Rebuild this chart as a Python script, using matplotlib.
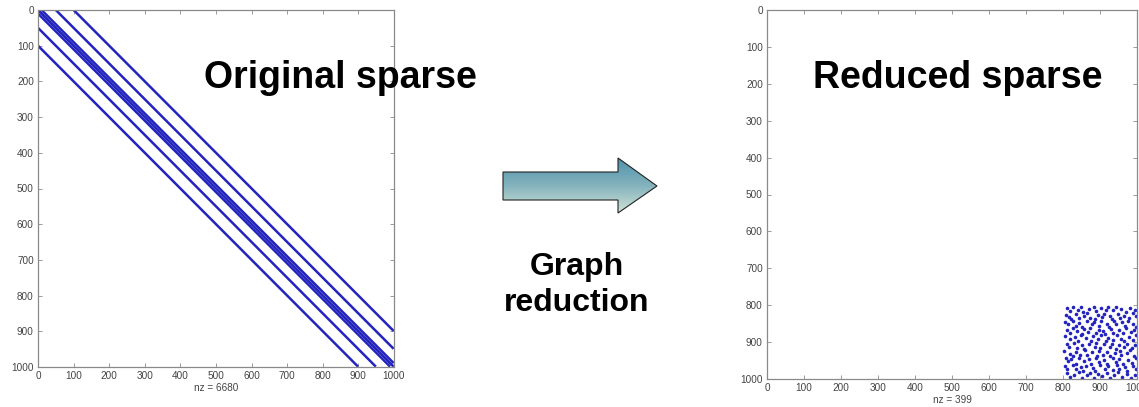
import numpy as np
import matplotlib
matplotlib.use("Agg")
import matplotlib.pyplot as plt
from matplotlib.patches import Polygon
from matplotlib.colors import LinearSegmentedColormap

# ---------------- data ----------------
N = 1000
band_offsets = [0, 10, -10, 50, -50, 100, -100]
ticks = [0, 100, 200, 300, 400, 500, 600, 700, 800, 900, 1000]
left_nz_label = "nz = 6680"
right_nz_label = "nz = 399"

reduced_cols = [812, 818, 826, 840, 848, 855, 870, 884, 890, 902, 915, 922, 936, 944, 958, 970, 982, 994,
                808, 816, 822, 835, 842, 858, 864, 872, 886, 895, 906, 912, 928, 933, 948, 955, 966, 978, 988, 997,
                805, 813, 828, 836, 844, 852, 866, 878, 884, 898, 904, 918, 925, 938, 942, 960, 968, 975, 990, 998,
                810, 818, 826, 838, 850, 856, 868, 874, 888, 896, 909, 914, 930, 936, 950, 962, 970, 984, 992,
                806, 820, 832, 840, 848, 862, 876, 880, 894, 902, 916, 922, 934, 946, 956, 966, 978, 988, 996,
                812, 816, 830, 838, 852, 858, 870, 886, 890, 900, 912, 926, 932, 944, 952, 964, 974, 986, 994,
                804, 818, 828, 834, 846, 860, 866, 878, 892, 898, 908, 918, 928, 940, 954, 958, 972, 980, 992,
                808, 814, 822, 836, 842, 856, 870, 876, 888, 896, 910, 920, 934, 942, 950, 962, 976, 986, 998,
                806, 812, 826, 834, 848, 854, 862, 880, 886, 900, 914, 922, 936, 946, 952, 968, 974, 990, 996,
                810, 818, 830, 842, 850, 864, 872, 884, 894, 906, 918, 926, 938, 948, 960, 972, 984, 994]
reduced_rows = [808, 815, 806, 812, 805, 818, 810, 806, 816, 808, 812, 805, 814, 806, 811, 818, 808, 814,
                826, 832, 838, 824, 836, 828, 822, 834, 838, 826, 832, 824, 830, 838, 824, 834, 828, 836, 822, 830,
                846, 852, 842, 856, 848, 858, 844, 852, 846, 856, 844, 850, 858, 842, 852, 846, 856, 842, 850, 858,
                866, 874, 862, 870, 878, 864, 872, 862, 876, 866, 870, 878, 864, 874, 868, 876, 862, 872, 866,
                884, 892, 886, 898, 882, 890, 896, 884, 892, 882, 898, 888, 894, 882, 892, 898, 886, 894, 882,
                906, 914, 902, 916, 908, 918, 904, 912, 902, 916, 906, 912, 904, 918, 908, 914, 904, 916, 908,
                924, 932, 938, 926, 934, 922, 936, 928, 938, 924, 934, 926, 938, 930, 924, 936, 930, 922, 938,
                944, 952, 946, 958, 944, 952, 946, 958, 942, 954, 948, 958, 944, 954, 946, 958, 948, 956, 944,
                966, 974, 962, 972, 968, 978, 964, 970, 978, 962, 972, 966, 976, 962, 972, 968, 978, 964, 974,
                984, 994, 988, 982, 996, 990, 984, 996, 986, 992, 984, 996, 988, 982, 994, 986, 998, 990]

# ---------------- figure ----------------
W, H = 1139, 407
fig = plt.figure(figsize=(W / 100, H / 100), dpi=100)
fig.patch.set_facecolor("white")
plt.rcParams["font.family"] = ["Liberation Sans", "DejaVu Sans"]

blue = "#2323bd"
spine_col = "#8a8a8a"
tick_col = "#444444"


def style_axes(ax, nzlabel, labelpad):
    ax.set_xlim(0, N)
    ax.set_ylim(N, 0)
    ax.set_xticks(ticks)
    ax.set_yticks(ticks)
    ax.tick_params(direction="in", length=3, width=0.6, colors=spine_col,
                   labelcolor=tick_col, labelsize=7.2, top=True, right=True,
                   bottom=True, left=True, labeltop=False, labelbottom=True, pad=3)
    ax.xaxis.set_ticks_position("both")
    ax.xaxis.set_label_position("bottom")
    ax.tick_params(labeltop=False, labelbottom=True)
    for s in ax.spines.values():
        s.set_color(spine_col)
        s.set_linewidth(0.9)
    ax.set_xlabel(nzlabel, fontsize=7.2, color=tick_col, labelpad=labelpad)


# Left: original sparse pattern (banded matrix)
axL = fig.add_axes([38 / W, 1 - 367 / H, 356 / W, 357 / H])
for k in band_offsets:
    band = np.eye(N, k=k)
    r, c = np.nonzero(band)
    axL.plot(c, r, linestyle="-", linewidth=1.8, color=blue, solid_capstyle="butt")
style_axes(axL, left_nz_label, 1.5)

# Right: reduced sparse pattern
axR = fig.add_axes([767 / W, 1 - 379 / H, 370 / W, 369 / H])
axR.plot(reduced_cols, reduced_rows, linestyle="none", marker="o", markersize=2.6,
         color=blue, markeredgewidth=0)
style_axes(axR, right_nz_label, 1.5)

# Overlay for arrow + texts (pixel coords)
ov = fig.add_axes([0, 0, 1, 1], zorder=5)
ov.set_xlim(0, W)
ov.set_ylim(H, 0)
ov.axis("off")
ov.patch.set_alpha(0)

verts = [(503, 172), (618, 172), (618, 158), (657, 186), (618, 213), (618, 200), (503, 200)]
poly = Polygon(verts, closed=True, facecolor="none", edgecolor="#222222", linewidth=0.8, zorder=3)
ov.add_patch(poly)
grad = np.linspace(0, 1, 256).reshape(-1, 1)
cmap = LinearSegmentedColormap.from_list("arr", ["#4f92ac", "#84b3bd", "#d0e2d6"])
im = ov.imshow(grad, cmap=cmap, extent=(503, 657, 213, 158), aspect="auto", zorder=2,
               interpolation="bilinear")
im.set_clip_path(poly)

ov.text(340, 78, "Original sparse", fontsize=27, fontweight="bold",
        ha="center", va="center", color="black")
ov.text(958, 78, "Reduced sparse", fontsize=27, fontweight="bold",
        ha="center", va="center", color="black")
ov.text(577, 267, "Graph", fontsize=23, fontweight="bold",
        ha="center", va="center", color="black")
ov.text(577, 303, "reduction", fontsize=23, fontweight="bold",
        ha="center", va="center", color="black")

fig.savefig("out.png", dpi=100, facecolor="white")
